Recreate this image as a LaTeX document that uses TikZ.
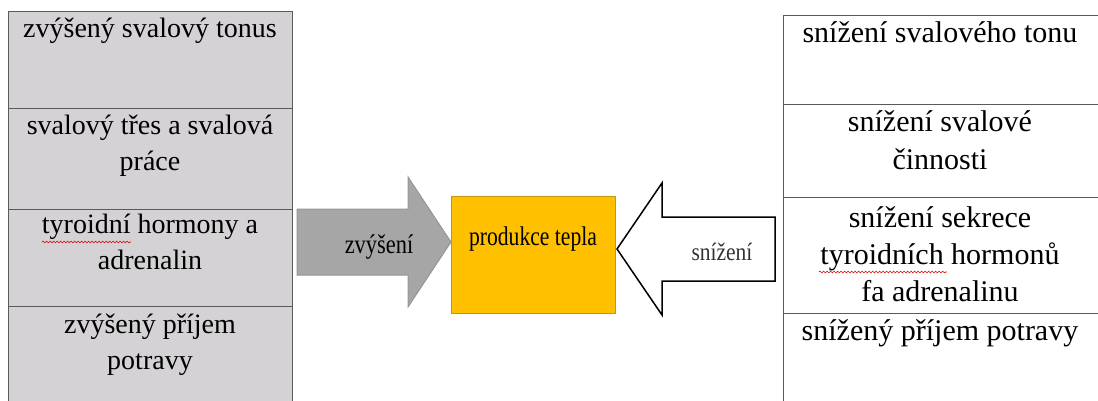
\documentclass[tikz,border=0pt]{standalone}
\usepackage{fontspec}
\setmainfont{Liberation Serif}
\usetikzlibrary{decorations.pathmorphing}
\definecolor{cellgray}{RGB}{212,210,212}
\definecolor{arrowgray}{RGB}{166,166,166}
\definecolor{arrowedge}{RGB}{150,150,150}
\definecolor{heatfill}{RGB}{255,192,0}
\definecolor{heatedge}{RGB}{196,150,20}
\definecolor{gridline}{RGB}{90,90,90}
\newcommand{\lefttext}[1]{\parbox[t]{280pt}{\centering\fontsize{28}{36}\selectfont #1}}
\newcommand{\righttext}[1]{\parbox[t]{310pt}{\centering\fontsize{30}{37}\selectfont #1}}
\begin{document}
\begin{tikzpicture}[x=1pt,y=-1pt,
  lcell/.style={draw=gridline, line width=1.2pt, fill=cellgray, minimum width=284pt, inner sep=0pt, anchor=north west},
  rcell/.style={draw=gridline, line width=1.2pt, fill=white, minimum width=340pt, inner sep=0pt, anchor=north west},
  ctext/.style={anchor=base, inner sep=0pt},
  squiggle/.style={red!85!black, line width=0.6pt, decorate, decoration={snake, amplitude=0.9pt, segment length=3.5pt}},
  blocklabel/.style={anchor=base, inner sep=0pt, font=\fontsize{27}{30}\selectfont}
]
\useasboundingbox (0,0) rectangle (1098,401);
\clip (0,0) rectangle (1098,401);

% left table
\node[lcell, minimum height=97pt]  (l1) at (8,11)  {};
\node[lcell, minimum height=101pt] (l2) at (8,108) {};
\node[lcell, minimum height=97pt]  (l3) at (8,209) {};
\node[lcell, minimum height=120pt] (l4) at (8,306) {};
\node[ctext] (lt1) at (150,38)  {\lefttext{zvýšený svalový tonus}};
\node[ctext] (lt2) at (150,135) {\lefttext{svalový třes a svalová\\práce}};
\node[ctext] (lt3) at (150,233) {\lefttext{tyroidní hormony a\\adrenalin}};
\node[ctext] (lt4) at (150,333) {\lefttext{zvýšený příjem\\potravy}};
\draw[squiggle] (42,242) -- (131,242);

% right table
\node[rcell, minimum height=89pt]  (r1) at (783,15)  {};
\node[rcell, minimum height=93pt]  (r2) at (783,104) {};
\node[rcell, minimum height=116pt] (r3) at (783,197) {};
\node[rcell, minimum height=120pt] (r4) at (783,313) {};
\node[ctext] (rt1) at (940,43)  {\righttext{snížení svalového tonu}};
\node[ctext] (rt2) at (940,132) {\righttext{snížení svalové\\činnosti}};
\node[ctext] (rt3) at (940,227) {\righttext{snížení sekrece\\tyroidních hormonů\\fa adrenalinu}};
\node[ctext] (rt4) at (940,340) {\righttext{snížený příjem potravy}};
\draw[squiggle] (819,272) -- (947,272);

% centre box
\node[draw=heatedge, line width=1pt, fill=heatfill, minimum width=164pt, minimum height=117pt, inner sep=0pt, anchor=north west] (prod) at (451,196) {};
\node[blocklabel, xscale=0.8] (prodlabel) at (533,245) {produkce tepla};

% increase arrow (grey)
\draw[draw=arrowedge, line width=1pt, fill=arrowgray]
  (297,209) -- (408,209) -- (408,177) -- (451,242) -- (408,307) -- (408,275) -- (297,275) -- cycle;
\node[blocklabel, xscale=0.83] (uplabel) at (379,253) {zvýšení};

% decrease arrow (white)
\draw[draw=black, line width=1.5pt, fill=white]
  (775,217) -- (662,217) -- (662,183) -- (617,249) -- (662,315) -- (662,281) -- (775,281) -- cycle;
\node[blocklabel, font=\fontsize{25}{28}\selectfont, xscale=0.86, text=black!80] (downlabel) at (722,260) {snížení};
\end{tikzpicture}
\end{document}
